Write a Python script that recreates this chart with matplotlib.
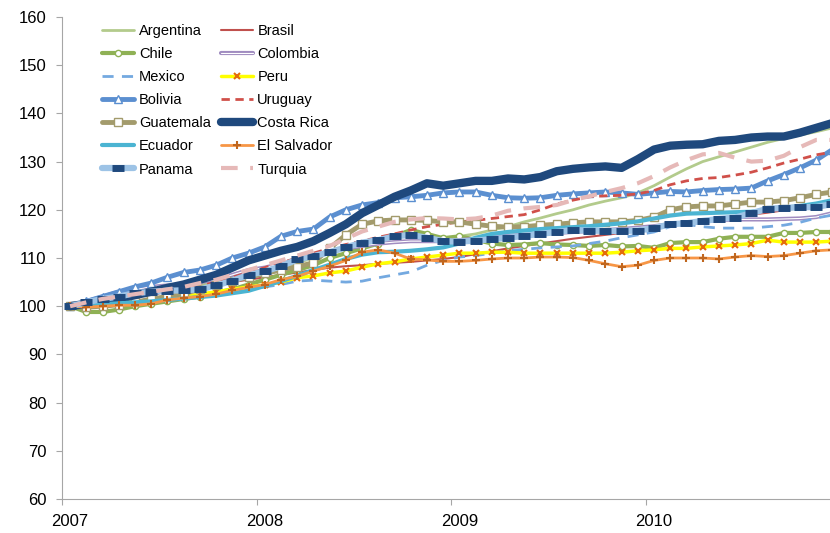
import matplotlib
matplotlib.use('Agg')
import matplotlib.pyplot as plt
import matplotlib.patheffects as pe
import numpy as np

plt.rcParams['font.family'] = ['Liberation Sans', 'DejaVu Sans']

# monthly index values, Jan 2007 - Dec 2010 (base 100)
argentina = [100, 100.5, 101, 101.8, 102.5, 103, 103.5, 104, 104.5, 105, 105.5, 106.5,
             107, 108, 109, 110, 111, 112, 112.5, 113, 113.3, 113.5, 113.8, 114,
             114.5, 115, 115.8, 116.5, 117.5, 118.3, 119.2, 120, 121, 121.8, 122.5, 123.5,
             125, 126.8, 128.5, 130, 131, 132, 133, 134, 134.8, 135.5, 136.2, 137]
brasil = [100, 100.5, 101, 101.5, 102, 102.5, 103, 103.5, 104, 104.5, 105, 105.5,
          106, 106.5, 107, 107.5, 108, 108.3, 108.5, 108.8, 109, 109.2, 109.5, 109.8,
          110.2, 110.8, 111.4, 112, 112.5, 113, 113.5, 114, 114.4, 114.8, 115.2, 115.6,
          116, 116.6, 117.2, 117.7, 118.2, 118.6, 119, 119.4, 119.9, 120.4, 121, 121.5]
chile = [100, 98.8, 98.8, 99.3, 100, 100.5, 101, 101.5, 102, 102.8, 103.5, 104.5,
         105.5, 106.5, 107.5, 108.5, 110, 111, 112, 113, 114.5, 115.8, 115, 114.1,
         114.5, 113.8, 113, 112.7, 112.8, 113.1, 112.8, 112.7, 112.5, 112.7, 112.4, 112.5,
         112.1, 113.1, 113.3, 113.3, 114, 114.4, 114.4, 114.4, 115.2, 115.2, 115.4, 115.4]
colombia = [100, 101, 102, 103, 103.5, 104, 104.3, 104.5, 105, 105.5, 106.5, 107.5,
            108, 108.8, 109.5, 110.5, 111.3, 112, 112.5, 113, 113.3, 113.5, 113.5, 113.5,
            113.7, 114, 114.3, 114.6, 114.8, 115, 115.2, 115.4, 115.6, 115.8, 116, 116.3,
            116.6, 117, 117.3, 117.6, 117.8, 118, 118, 118, 118.1, 118.2, 118.5, 119.3]
mexico = [100, 100, 100.3, 100.5, 101, 101.3, 101.7, 102, 102.3, 102.7, 103, 103.5,
          104, 104.5, 105.2, 105.4, 105.2, 105, 105.2, 105.9, 106.5, 107.1, 108.5, 109.5,
          110.2, 110.5, 111, 111.5, 111.8, 112.1, 112.3, 112.5, 113, 113.5, 114.2, 114.8,
          115.4, 116.5, 117, 116.5, 116.2, 116.2, 116.2, 116.5, 116.8, 117.4, 118.3, 118.9]
peru = [100, 100.2, 100.5, 100.8, 101, 101.3, 101.7, 102, 102.5, 103, 103.5, 104,
        104.4, 105, 105.9, 106.3, 106.9, 107.3, 108.1, 108.8, 109.2, 109.8, 110.2, 110.6,
        111, 111, 111.2, 111.2, 111, 111, 111, 111, 111, 111, 111.2, 111.5,
        111.7, 112, 112, 112.3, 112.5, 112.7, 113, 113.7, 113.3, 113.3, 113.3, 113.5]
bolivia = [100, 101, 102, 103, 104, 104.8, 106, 107, 107.5, 108.5, 110, 111,
           112.3, 114.5, 115.5, 116, 118.5, 120, 121, 121.5, 122.5, 122.7, 123, 123.5,
           123.7, 123.7, 123, 122.5, 122.4, 122.5, 123, 123.3, 123.5, 123.7, 123.5, 123.2,
           123.5, 123.8, 123.7, 124, 124.2, 124.3, 124.5, 126, 127.3, 128.7, 130.3, 132.5]
uruguay = [100, 100.5, 101, 101.5, 102, 102.5, 103, 103.5, 104.2, 105, 106, 107,
           108, 109, 110, 111, 112, 112.8, 113.5, 114.3, 115, 115.8, 116.5, 117,
           117.5, 117.8, 118.2, 118.6, 119, 120, 121.2, 122, 122.7, 122.9, 123, 123.3,
           124, 125.2, 126, 126.5, 126.7, 127.2, 127.8, 128.7, 129.7, 130.5, 131.4, 132]
guatemala = [100, 99.8, 100, 100.3, 100.8, 101.5, 102, 102.6, 103.5, 104.3, 105.3, 106,
             106.8, 107.5, 108.2, 109, 112, 114.8, 117, 117.7, 117.9, 117.9, 117.8, 117.5,
             117.5, 117, 116.6, 116.4, 116.5, 116.8, 117, 117.3, 117.5, 117.5, 117.5, 117.8,
             118.5, 120, 120.6, 120.8, 120.8, 121.2, 121.6, 121.6, 121.9, 122.5, 123.2, 123.7]
costa_rica = [100, 100.5, 101, 101.5, 102.3, 103, 103.8, 104.5, 105.5, 106.5, 108, 109.5,
              110.5, 111.5, 112.3, 113.5, 115.2, 117, 119.3, 121, 122.7, 124, 125.5, 125,
              125.5, 126, 126, 126.5, 126.3, 126.8, 128, 128.5, 128.8, 129, 128.7, 130.5,
              132.5, 133.3, 133.5, 133.6, 134.3, 134.5, 135, 135.2, 135.2, 136, 137, 138]
ecuador = [100, 100.2, 100.4, 100.6, 100.8, 101, 101.3, 101.6, 101.9, 102.2, 102.7, 103.2,
           104.2, 105.2, 106.3, 107.5, 108.6, 109.8, 110.7, 111.2, 111.3, 111.5, 111.8, 112.2,
           113, 114.2, 115, 115.4, 115.7, 116, 116.2, 116.4, 116.6, 116.9, 117.2, 117.6,
           118.2, 118.8, 119.2, 119.3, 119.4, 119.5, 119.6, 120, 120.4, 120.8, 121.3, 122]
el_salvador = [100, 99.8, 100, 100.2, 100.2, 100.5, 101.3, 101.7, 102, 102.5, 103.3, 103.9,
               104.5, 105.5, 106.2, 107.3, 108.3, 109.5, 111.2, 111.7, 111, 109.8, 109.6, 109.3,
               109.3, 109.5, 109.8, 110, 110, 110.2, 110.2, 110.1, 109.5, 108.8, 108.2, 108.5,
               109.5, 110, 110, 110, 109.8, 110.2, 110.5, 110.3, 110.5, 111, 111.5, 111.7]
panama = [100, 100.8, 101.5, 102, 102.7, 103, 103.2, 103.3, 103.5, 104.3, 105.3, 106.5,
          107.2, 108.3, 109.7, 110.4, 111.2, 112.2, 113.2, 113.7, 114.5, 114.8, 114.2, 113.5,
          113.4, 113.6, 113.9, 114.2, 114.6, 115, 115.4, 115.8, 115.7, 115.6, 115.6, 115.7,
          116.2, 117, 117.2, 117.7, 118.1, 118.4, 119.3, 120.2, 120.4, 120.5, 120.6, 121.2]
turquia = [100, 100.8, 101.5, 102, 102.5, 103, 103.5, 104, 104.8, 105.5, 106.5, 107.5,
           108.5, 109.5, 110.5, 111.5, 112.5, 114, 115.5, 116.5, 117.5, 118, 118.3, 118.2,
           118, 118.2, 118.8, 119.8, 120.3, 120.6, 121, 122, 122.8, 123.7, 124.5, 125.5,
           127, 128.8, 130.3, 131.5, 131.8, 130.8, 130, 130.2, 131.2, 133, 134.5, 134.5]

year_labels = ['2007', '2008', '2009', '2010']

months = np.arange(len(costa_rica))

fig = plt.figure(figsize=(8.3, 5.33), dpi=100)
ax = fig.add_axes([62 / 830, 34 / 533, 768 / 830, 482 / 533])

white = 'white'
series = [
    ('Argentina', argentina, dict(color='#b3cb8c', lw=2)),
    ('Brasil', brasil, dict(color='#c0504d', lw=1.5)),
    ('Chile', chile, dict(color='#8fb155', lw=3, marker='o', ms=4.5, mfc=white, mec='#8fb155', mew=1)),
    ('Colombia', colombia, dict(color='white', lw=0.8,
                                path_effects=[pe.Stroke(linewidth=3, foreground='#a08cc0'), pe.Normal()])),
    ('Mexico', mexico, dict(color='#74a9e0', lw=2, ls=(0, (4, 3)))),
    ('Peru', peru, dict(color='#ffff00', lw=2.5, marker='x', ms=4.5, mec='#e46c0a', mew=1.5)),
    ('Bolivia', bolivia, dict(color='#5b8fd0', lw=3.5, marker='^', ms=6, mfc=white, mec='#5b8fd0', mew=1)),
    ('Uruguay', uruguay, dict(color='#d0504a', lw=2, ls=(0, (3, 2)))),
    ('Guatemala', guatemala, dict(color='#a39b6c', lw=3.5, marker='s', ms=5.5, mfc=white, mec='#a39b6c', mew=1)),
    ('Costa Rica', costa_rica, dict(color='#1f497d', lw=6)),
    ('Ecuador', ecuador, dict(color='#4bb4d2', lw=3)),
    ('El Salvador', el_salvador, dict(color='#f79646', lw=2, marker='+', ms=6, mec='#c0661e', mew=1.5)),
    ('Panama', panama, dict(color='#9dc3e6', lw=4.5, marker='_', ms=8, mec='#1f497d', mew=5)),
    ('Turquia', turquia, dict(color='#e6b9b8', lw=3, ls=(0, (4, 3)))),
]

handles = {}
for name, vals, style in series:
    line, = ax.plot(months, vals, label=name, solid_capstyle='round', **style)
    handles[name] = line

ax.set_ylim(60, 160)
ax.set_yticks(np.arange(60, 161, 10))

# category axis: ticks between months, year labels centred on first month
ax.set_xlim(-0.5, 768 / 16.22 - 0.5)
ax.set_xticks([-0.5, 11.5, 23.5, 35.5])
ax.set_xticklabels([])
ax.set_xticks([0, 12, 24, 36], minor=True)
ax.set_xticklabels(year_labels, minor=True)

for side in ['top', 'right']:
    ax.spines[side].set_visible(False)
for side in ['left', 'bottom']:
    ax.spines[side].set_color('#a6a6a6')
ax.tick_params(axis='both', colors='#a6a6a6', labelcolor='black', labelsize=12, length=4)
ax.tick_params(axis='y', pad=7)
ax.tick_params(axis='x', which='minor', length=0, labelsize=12, labelcolor='black', pad=11)

# Excel style legend fills by rows, matplotlib fills by columns
names = [s[0] for s in series]
order = names[0::2] + names[1::2]
ax.legend([handles[n] for n in order], order, ncol=2, loc='upper left',
          bbox_to_anchor=(95 / 830, 1 - 17 / 533), bbox_transform=fig.transFigure,
          frameon=False, fontsize=10.5, handlelength=2.2, handletextpad=0.3,
          columnspacing=0.7, labelspacing=0.62, borderpad=0)

fig.savefig('out.png', dpi=100)
